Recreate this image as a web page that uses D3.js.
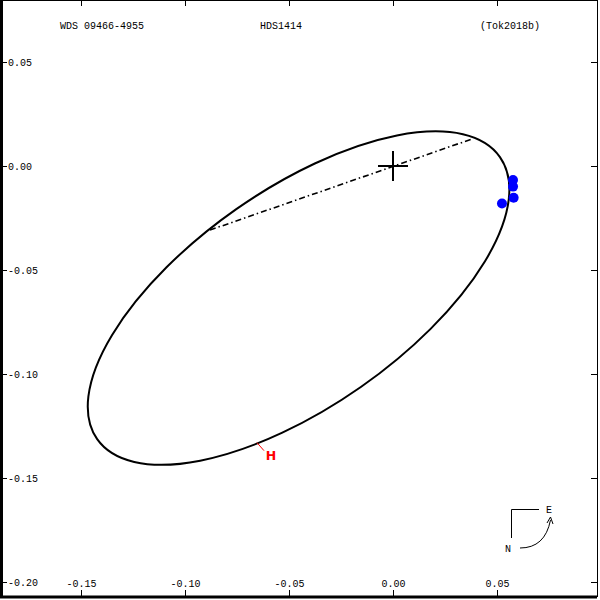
<!DOCTYPE html>
<html><head><meta charset="utf-8">
<script src="https://cdn.jsdelivr.net/npm/d3@7"></script>
<style>body{margin:0;background:#fff}svg{display:block}</style>
</head><body>
<svg id="c" width="600" height="600"></svg>
<script>
// ---- data ----
const titleTexts = ["WDS 09466-4955", "HDS1414", "(Tok2018b)"];
const xTicks = [-0.15, -0.10, -0.05, 0.00, 0.05];
const yTicks = [0.05, 0.00, -0.05, -0.10, -0.15, -0.20];
// apparent orbit (projected ellipse): centre, semi-axes (arcsec), position angle of major axis (deg, from +x towards +y)
const orbitCenter = [-0.0454, -0.0635];
const orbitAxes = [0.1182, 0.0522];
const orbitAngle = [35];
const obsX = [0.0577, 0.0577, 0.0580, 0.0524];
const obsY = [-0.0067, -0.0099, -0.0153, -0.0180];
const nodeX = [-0.0880, 0.0380];
const nodeY = [-0.0308, 0.0130];
const hMarkX = [-0.0654];
const hMarkY = [-0.1330];

// ---- drawing ----
const svg = d3.select("#c");
const x = d3.scaleLinear().domain([-0.15, 0.05]).range([81, 497]);
const y = d3.scaleLinear().domain([-0.20, 0.05]).range([582, 62]);
const L = 1.5, R = 597, T = 0.5, B = 597;
const font = "'Liberation Mono', 'DejaVu Sans Mono', monospace";

// frame
svg.append("line").attr("x1",L).attr("x2",L).attr("y1",0).attr("y2",B).attr("stroke","#000").attr("stroke-width",3);
svg.append("line").attr("x1",0).attr("x2",R).attr("y1",B).attr("y2",B).attr("stroke","#000").attr("stroke-width",3);
svg.append("line").attr("x1",R+0.5).attr("x2",R+0.5).attr("y1",0).attr("y2",B).attr("stroke","#000").attr("stroke-width",1);
svg.append("line").attr("x1",0).attr("x2",R).attr("y1",T).attr("y2",T).attr("stroke","#000").attr("stroke-width",1);

// axes (ticks inward)
const fmt = v => d3.format(".2f")(v).replace("\u2212","-");
const gx = svg.append("g");
xTicks.forEach(t => {
  const px = Math.round(x(t)) + 0.5;
  gx.append("line").attr("x1",px).attr("x2",px).attr("y1",0).attr("y2",6).attr("stroke","#000");
  gx.append("line").attr("x1",px).attr("x2",px).attr("y1",B-1).attr("y2",B-7).attr("stroke","#000");
  gx.append("text").attr("x",px).attr("y",587).attr("text-anchor","middle")
    .attr("font-family",font).attr("font-size",10).text(fmt(t));
});
const gy = svg.append("g");
yTicks.forEach(t => {
  const py = Math.round(y(t)) + 0.5;
  gy.append("line").attr("x1",L).attr("x2",7).attr("y1",py).attr("y2",py).attr("stroke","#000");
  gy.append("line").attr("x1",R).attr("x2",R-6).attr("y1",py).attr("y2",py).attr("stroke","#000");
  gy.append("text").attr("x",8).attr("y",py+3.5).attr("text-anchor","start")
    .attr("font-family",font).attr("font-size",10).text(fmt(t));
});

// titles
const titleX = [60, 281, 540];
const titleAnchor = ["start","middle","end"];
titleTexts.forEach((s,i) => {
  svg.append("text").attr("x",titleX[i]).attr("y",29).attr("text-anchor",titleAnchor[i])
    .attr("font-family",font).attr("font-size",10).text(s);
});

// orbit ellipse, placed through the scales
const k = x(1) - x(0); // px per arcsec (equal aspect)
svg.append("ellipse")
  .attr("cx", 0).attr("cy", 0)
  .attr("rx", orbitAxes[0] * k).attr("ry", orbitAxes[1] * k)
  .attr("transform", `translate(${x(orbitCenter[0])},${y(orbitCenter[1])}) rotate(${-orbitAngle[0]})`)
  .attr("fill","none").attr("stroke","#000").attr("stroke-width",2);

// line of nodes
svg.append("line").attr("x1",x(nodeX[0])).attr("y1",y(nodeY[0])).attr("x2",x(nodeX[1])).attr("y2",y(nodeY[1]))
  .attr("stroke","#000").attr("stroke-width",1.6).attr("stroke-dasharray","6,3,1.5,3");

// primary cross
const cx = x(0), cy = y(0);
svg.append("line").attr("x1",cx-15).attr("x2",cx+15).attr("y1",cy).attr("y2",cy).attr("stroke","#000").attr("stroke-width",2);
svg.append("line").attr("x1",cx).attr("x2",cx).attr("y1",cy-15).attr("y2",cy+15).attr("stroke","#000").attr("stroke-width",2);

// observations
svg.append("g").selectAll("circle").data(obsX.map((v,i)=>[v,obsY[i]])).join("circle")
  .attr("cx",d=>x(d[0])).attr("cy",d=>y(d[1])).attr("r",5).attr("fill","#0000ff");

// H marker
hMarkX.forEach((v,i) => {
  const px = x(v), py = y(hMarkY[i]);
  svg.append("line").attr("x1",px).attr("y1",py).attr("x2",px+7).attr("y2",py+8).attr("stroke","#ff0000").attr("stroke-width",1);
  svg.append("text").attr("x",px+14).attr("y",py+17).attr("text-anchor","middle")
    .attr("font-family","'DejaVu Sans', sans-serif").attr("font-weight","bold").attr("font-size",12.5)
    .attr("fill","#ff0000").text("H");
});

// compass
const cp = svg.append("g").attr("stroke","#000").attr("fill","none");
cp.append("path").attr("d","M511.5,538 L511.5,509.5 L539,509.5");
cp.append("path").attr("d","M520,548 Q545,548 550.5,520");
cp.append("path").attr("d","M547,523 L550.5,517 L553,524");
svg.append("text").attr("x",549).attr("y",513).attr("text-anchor","middle").attr("font-family",font).attr("font-size",10).text("E");
svg.append("text").attr("x",508).attr("y",552).attr("text-anchor","middle").attr("font-family",font).attr("font-size",10).text("N");
</script>
</body></html>
